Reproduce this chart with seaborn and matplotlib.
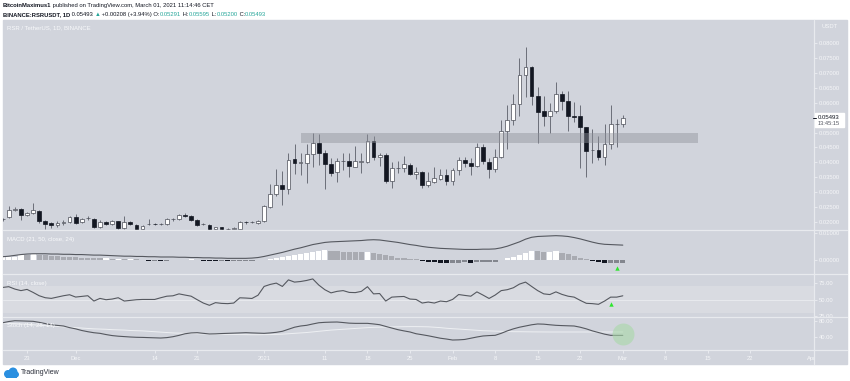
import pandas as pd
import seaborn as sns
import matplotlib.pyplot as plt
import matplotlib.dates as mdates
from matplotlib.patches import Rectangle, Circle
from matplotlib.lines import Line2D

sns.set_theme(style="dark")
plt.rcParams['font.family'] = ['Liberation Sans', 'DejaVu Sans']

# daily candles RSR/USDT, first candle 2020-11-19
start = '2020-11-19'
opens = [0.0208, 0.02147, 0.0241, 0.0242, 0.0221, 0.0228, 0.0237, 0.0201, 0.0195, 0.0188,
         0.0197, 0.0199, 0.0215, 0.0199, 0.0211, 0.0208, 0.0183, 0.0199, 0.0192, 0.0201,
         0.0179, 0.0199, 0.0188, 0.0175, 0.0192, 0.0193, 0.0192, 0.0192, 0.0208, 0.0208,
         0.0224, 0.0219, 0.0206, 0.0192, 0.0190, 0.0174, 0.0181, 0.0175, 0.0176, 0.0177,
         0.0199, 0.0198, 0.0195, 0.0201, 0.0250, 0.0293, 0.0324, 0.0309, 0.0411, 0.0399,
         0.0399, 0.0427, 0.0465, 0.0430, 0.0394, 0.0368, 0.0404, 0.0403, 0.0385, 0.0402,
         0.0401, 0.0472, 0.0418, 0.0424, 0.0338, 0.0381, 0.0381, 0.0391, 0.0359, 0.0368,
         0.0322, 0.0333, 0.0342, 0.0356, 0.0336, 0.0374, 0.0409, 0.0398, 0.0389, 0.0452,
         0.0400, 0.0378, 0.0418, 0.0504, 0.0541, 0.0597, 0.0692, 0.0720, 0.0624, 0.0572,
         0.0557, 0.0572, 0.0629, 0.0605, 0.0557, 0.0555, 0.0519, 0.0440, 0.0441, 0.0416,
         0.0460, 0.0528, 0.05291]
highs = [0.0212, 0.02527, 0.0250, 0.0246, 0.0233, 0.0264, 0.0240, 0.0206, 0.0199, 0.0204,
         0.0206, 0.0218, 0.0226, 0.0214, 0.0218, 0.0212, 0.0206, 0.0203, 0.0206, 0.0204,
         0.0219, 0.0203, 0.0192, 0.0188, 0.0208, 0.0197, 0.0196, 0.0211, 0.0214, 0.0227,
         0.0230, 0.0221, 0.0208, 0.0196, 0.0192, 0.0183, 0.0183, 0.0179, 0.0181, 0.0201,
         0.0204, 0.0203, 0.0206, 0.0256, 0.0327, 0.0376, 0.0369, 0.0430, 0.0461, 0.0430,
         0.0461, 0.0499, 0.0494, 0.0440, 0.0413, 0.0414, 0.0432, 0.0430, 0.0456, 0.0432,
         0.0494, 0.0488, 0.0430, 0.0430, 0.0401, 0.0403, 0.0420, 0.0398, 0.0383, 0.0372,
         0.0366, 0.0385, 0.0376, 0.0376, 0.0379, 0.0416, 0.0416, 0.0414, 0.0465, 0.0461,
         0.0413, 0.0443, 0.0541, 0.0592, 0.0631, 0.0752, 0.0787, 0.0725, 0.0653, 0.0622,
         0.0599, 0.0670, 0.0639, 0.0639, 0.0602, 0.0592, 0.0519, 0.0513, 0.0488, 0.0528,
         0.0592, 0.0545, 0.05595]
lows = [0.0204, 0.0212, 0.0236, 0.0206, 0.0218, 0.0226, 0.0196, 0.0175, 0.0178, 0.0182,
        0.0190, 0.0196, 0.0193, 0.0195, 0.0207, 0.0180, 0.0180, 0.0188, 0.0189, 0.0176,
        0.0176, 0.0189, 0.0174, 0.0173, 0.0189, 0.0189, 0.0190, 0.0190, 0.0204, 0.0205,
        0.0216, 0.0203, 0.0184, 0.0188, 0.0172, 0.0172, 0.0173, 0.0173, 0.0174, 0.0175,
        0.0193, 0.0194, 0.0192, 0.0199, 0.0246, 0.0287, 0.0255, 0.0293, 0.0362, 0.0357,
        0.0331, 0.0385, 0.0390, 0.0309, 0.0354, 0.0334, 0.0374, 0.0351, 0.0383, 0.0364,
        0.0396, 0.0409, 0.0387, 0.0329, 0.0312, 0.0364, 0.0368, 0.0357, 0.0342, 0.0312,
        0.0317, 0.0329, 0.0340, 0.0323, 0.0323, 0.0357, 0.0385, 0.0357, 0.0385, 0.0394,
        0.0346, 0.0368, 0.0413, 0.0444, 0.0525, 0.0555, 0.0620, 0.0592, 0.0465, 0.0521,
        0.0499, 0.0564, 0.0575, 0.0505, 0.0535, 0.0379, 0.0351, 0.0396, 0.0407, 0.0390,
        0.0446, 0.0450, 0.05200]
closes = [0.0210, 0.02392, 0.0242, 0.02235, 0.0230, 0.0239, 0.0201, 0.0192, 0.0188, 0.0197,
          0.0198, 0.0215, 0.0197, 0.0210, 0.0212, 0.0183, 0.0199, 0.0192, 0.0203, 0.0179,
          0.0199, 0.0192, 0.0177, 0.0186, 0.0193, 0.0192, 0.0193, 0.0208, 0.0209, 0.0223,
          0.0219, 0.0206, 0.0188, 0.0193, 0.0175, 0.0181, 0.0175, 0.0176, 0.0177, 0.0199,
          0.0198, 0.0199, 0.0203, 0.0253, 0.0293, 0.0324, 0.0309, 0.0409, 0.0398, 0.0400,
          0.0427, 0.0465, 0.0430, 0.0394, 0.0364, 0.0405, 0.0405, 0.0387, 0.0403, 0.0403,
          0.0472, 0.0416, 0.0423, 0.0336, 0.0380, 0.0382, 0.0393, 0.0360, 0.0368, 0.0323,
          0.0336, 0.0346, 0.0356, 0.0336, 0.0374, 0.0409, 0.0398, 0.0389, 0.0452, 0.0403,
          0.0378, 0.0418, 0.0504, 0.0541, 0.0597, 0.0692, 0.0722, 0.0622, 0.0570, 0.0556,
          0.0572, 0.0628, 0.0605, 0.0556, 0.0552, 0.0517, 0.0437, 0.0441, 0.0416, 0.0460,
          0.0528, 0.0529, 0.05493]

# indicators
macd_line = [0.0011, 0.0013, 0.0016, 0.0019, 0.0021, 0.0022, 0.0022, 0.0022, 0.0021, 0.0021,
             0.0020, 0.0020, 0.0019, 0.0019, 0.0018, 0.0017, 0.0017, 0.0016, 0.0015, 0.0014,
             0.0013, 0.0013, 0.0012, 0.0012, 0.0011, 0.0011, 0.0010, 0.0010, 0.0010, 0.0009,
             0.0009, 0.0008, 0.0008, 0.0007, 0.0007, 0.0006, 0.0006, 0.0005, 0.0005, 0.0005,
             0.0005, 0.0006, 0.0008, 0.0012, 0.0017, 0.0022, 0.0027, 0.0033, 0.0039, 0.0044,
             0.0050, 0.0056, 0.0060, 0.0064, 0.0066, 0.0067, 0.0068, 0.0069, 0.0070, 0.0071,
             0.0073, 0.0074, 0.0073, 0.0070, 0.0067, 0.0064, 0.0060, 0.0056, 0.0053, 0.0049,
             0.0046, 0.0044, 0.0042, 0.0041, 0.0040, 0.0039, 0.0038, 0.0038, 0.0038, 0.0039,
             0.0039, 0.0040, 0.0044, 0.0050, 0.0058, 0.0066, 0.0076, 0.0083, 0.0086, 0.0087,
             0.0088, 0.0089, 0.0088, 0.0086, 0.0082, 0.0077, 0.0071, 0.0065, 0.0060, 0.0057,
             0.0056, 0.0055, 0.0054]
macd_hist = [0.0010, 0.0010, 0.0011, 0.0017, 0.0016, 0.0020, 0.0017, 0.0016, 0.0013, 0.0012,
             0.0011, 0.0010, 0.0009, 0.0008, 0.0007, 0.0006, 0.0005, 0.0005, 0.0004, 0.0004,
             0.0003, 0.0003, 0.0002, -0.0002, -0.0003, -0.0003, -0.0004, -0.0003, -0.0002, -0.0001,
             -0.0001, 0.0001, -0.0002, -0.0003, -0.0004, -0.0005, -0.0005, -0.0006, -0.0006, -0.0005,
             -0.0004, -0.0003, -0.0002, -0.0001, 0.0003, 0.0006, 0.0009, 0.0013, 0.0016, 0.0020,
             0.0024, 0.0028, 0.0032, 0.0037, 0.0033, 0.0031, 0.0030, 0.0029, 0.0028, 0.0027,
             0.0029, 0.0025, 0.0022, 0.0018, 0.0012, 0.0008, 0.0006, 0.0004, 0.0002, -0.0004,
             -0.0008, -0.0010, -0.0013, -0.0014, -0.0013, -0.0011, -0.0010, -0.0011, -0.0009, -0.0008,
             -0.0008, -0.0007, -0.0002, 0.0005, 0.0010, 0.0017, 0.0026, 0.0032, 0.0031, 0.0030,
             0.0030, 0.0031, 0.0024, 0.0020, 0.0015, 0.0008, 0.0002, -0.0003, -0.0008, -0.0013,
             -0.0012, -0.0011, -0.0011]
rsi = [68.5, 69.6, 66.0, 63.7, 65.5, 61.0, 56.0, 53.0, 52.0, 54.0,
       56.0, 57.5, 54.0, 55.0, 56.0, 48.0, 52.0, 50.0, 51.0, 53.0,
       48.0, 49.0, 50.0, 50.4, 50.4, 50.4, 53.0, 55.3, 55.9, 58.8,
       57.0, 55.3, 50.0, 45.0, 41.6, 45.6, 44.5, 44.1, 45.0, 52.9,
       52.5, 51.9, 56.8, 70.0, 73.0, 75.0, 70.0, 79.9, 76.5, 77.4,
       79.0, 81.3, 72.0, 65.0, 60.3, 62.6, 63.7, 61.0, 60.7, 62.6,
       69.6, 58.8, 59.3, 48.0, 53.9, 54.5, 54.9, 51.0, 50.4, 45.0,
       46.5, 45.0, 48.0, 47.0, 50.4, 57.8, 56.5, 55.3, 61.8, 57.0,
       51.9, 57.0, 63.7, 65.1, 68.0, 73.5, 76.5, 70.0, 63.7, 58.8,
       57.8, 61.8, 58.0, 55.3, 53.9, 49.0, 44.6, 44.1, 43.1, 48.0,
       53.9, 53.9, 55.9]
stoch_k = [75.0, 78.0, 80.0, 79.5, 79.0, 78.5, 76.0, 73.0, 70.0, 68.5,
           67.0, 63.0, 60.0, 56.0, 53.0, 50.5, 49.0, 46.0, 43.5, 42.0,
           41.0, 40.0, 39.3, 39.0, 38.5, 38.0, 37.5, 38.5, 40.7, 44.0,
           48.0, 50.0, 50.6, 49.0, 47.5, 47.8, 48.5, 49.0, 49.5, 50.0,
           50.6, 50.0, 49.5, 49.0, 50.0, 51.5, 54.0, 59.0, 64.0, 67.0,
           68.7, 72.0, 75.0, 76.0, 76.5, 76.8, 75.5, 74.0, 73.5, 73.5,
           73.5, 72.0, 70.2, 66.0, 62.0, 58.0, 55.0, 52.3, 48.0, 45.6,
           43.0, 40.0, 37.0, 35.0, 32.6, 33.0, 34.0, 37.0, 40.0, 42.5,
           43.5, 44.1, 49.0, 55.0, 60.0, 64.0, 67.0, 70.0, 72.0, 71.5,
           70.0, 68.7, 68.0, 67.5, 67.0, 64.0, 60.0, 55.0, 51.0, 47.0,
           44.1, 44.0, 44.0]
stoch_d = [74.0, 73.5, 73.0, 72.0, 71.0, 70.0, 69.0, 68.0, 67.0, 66.0,
           65.0, 64.0, 63.0, 62.0, 61.0, 60.0, 59.5, 59.0, 58.0, 57.5,
           57.0, 56.0, 55.5, 55.0, 54.0, 53.0, 52.0, 51.0, 50.0, 49.5,
           49.0, 48.5, 48.0, 47.5, 47.4, 47.0, 46.8, 46.5, 46.2, 46.0,
           45.8, 45.6, 45.6, 45.8, 46.0, 46.5, 47.0, 48.0, 49.0, 50.0,
           51.0, 52.5, 54.0, 55.5, 57.0, 58.0, 59.0, 60.0, 61.0, 62.0,
           63.0, 63.8, 64.2, 64.5, 64.8, 65.0, 65.3, 65.5, 65.5, 65.3,
           65.0, 64.0, 63.0, 61.5, 60.4, 59.5, 58.5, 57.5, 56.5, 55.5,
           55.0, 54.5, 54.0, 53.5, 53.0, 53.0, 52.8, 52.6, 52.5, 52.4,
           52.3, 52.3, 52.3, 52.3, 52.3, 52.3, 52.3, 52.3, 52.3, 52.3,
           52.3, 52.3, 52.3]

# drawn support zone
zone_start, zone_end = '2021-01-07', '2021-03-13 10:00'
zone_low, zone_high = 0.0465, 0.0497

# signal markers
macd_signal = ('2021-02-28', -0.0032)
rsi_signal = ('2021-02-27', 44.0)
stoch_spot = ('2021-03-01', 46.6)

tick_dates = ['2020-11-23', '2020-12-01', '2020-12-14', '2020-12-21', '2021-01-01',
              '2021-01-11', '2021-01-18', '2021-01-25', '2021-02-01', '2021-02-08',
              '2021-02-15', '2021-02-22', '2021-03-01', '2021-03-08', '2021-03-15',
              '2021-03-22']
tick_labels = ['23', 'Dec', '14', '21', '2021', '11', '18', '25', 'Feb', '8', '15', '22',
               'Mar', '8', '15', '22']
price_ticks = [0.02, 0.025, 0.03, 0.035, 0.04, 0.045, 0.05, 0.055, 0.06, 0.065, 0.07, 0.075, 0.08]

df = pd.DataFrame({'date': pd.date_range(start, periods=len(closes), freq='D'),
                   'open': opens, 'high': highs, 'low': lows, 'close': closes,
                   'macd': macd_line, 'hist': macd_hist, 'rsi': rsi,
                   'k': stoch_k, 'd': stoch_d})

W, H = 850, 381
bg = '#d1d4dc'
light = '#f5f6f8'
dark = '#131722'
line_col = '#55585f'


def box(x0, y0, x1, y1):
    return [x0 / W, 1 - y1 / H, (x1 - x0) / W, (y1 - y0) / H]


fig = plt.figure(figsize=(8.5, 3.81), dpi=100, facecolor='white')
fig.patches.append(Rectangle((3 / W, 1 - 364 / H), 844 / W, 344 / H,
                             transform=fig.transFigure, color=bg, zorder=-1))

ax_main = fig.add_axes(box(3, 20, 814, 230))
ax_macd = fig.add_axes(box(3, 230, 814, 274), sharex=ax_main)
ax_rsi = fig.add_axes(box(3, 274, 814, 317), sharex=ax_main)
ax_sto = fig.add_axes(box(3, 317, 814, 350), sharex=ax_main)
axes = [ax_main, ax_macd, ax_rsi, ax_sto]

x0 = mdates.date2num(pd.Timestamp('2020-11-23')) - 3.95
xlim = (x0, x0 + 133.4)

for ax in axes:
    ax.set_facecolor(bg)
    for s in ax.spines.values():
        s.set_visible(False)
    ax.grid(False)
    ax.yaxis.tick_right()
    ax.tick_params(axis='y', direction='out', length=2, width=0.6, color='#eceef2',
                   labelcolor=light, labelsize=4.2, pad=1.5)
    ax.tick_params(axis='x', bottom=False, labelbottom=False)

# candles
up = df['close'] >= df['open']
ax_main.vlines(df['date'], df['low'], df['high'], color='#6b6e78', lw=0.7, zorder=2)
body = (df['close'] - df['open']).abs().clip(lower=0.00012)
ax_main.bar(df['date'], body, bottom=df[['open', 'close']].min(axis=1), width=0.62,
            color=['white' if u else dark for u in up],
            edgecolor=['#4a4d57' if u else dark for u in up], linewidth=0.5, zorder=3)
zs = mdates.date2num(pd.Timestamp(zone_start))
ze = mdates.date2num(pd.Timestamp(zone_end))
ax_main.add_patch(Rectangle((zs, zone_low), ze - zs, zone_high - zone_low,
                            facecolor='#8f929b', alpha=0.45, edgecolor='none', zorder=4))
ax_main.set_ylim(0.01721, 0.08784)
ax_main.set_yticks(price_ticks)
ax_main.set_yticklabels([f'{v:.5f}' for v in price_ticks])

# MACD
prev = df['hist'].shift(1).fillna(0)
hcols = []
for h, p in zip(df['hist'], prev):
    if h >= 0:
        hcols.append('white' if h >= p else '#a9abb2')
    else:
        hcols.append(dark if h < p else '#83868e')
ax_macd.bar(df['date'], df['hist'], width=0.85, color=hcols, linewidth=0, zorder=2)
sns.lineplot(data=df, x='date', y='macd', ax=ax_macd, color=line_col, linewidth=0.8, zorder=3)
ax_macd.scatter([pd.Timestamp(macd_signal[0])], [macd_signal[1]], marker='^', s=10,
                color='#2ee62e', linewidths=0, zorder=5)
ax_macd.set_ylim(-0.0053, 0.0110)
ax_macd.set_yticks([0.0, 0.01])
ax_macd.set_yticklabels(['0.00000', '0.01000'])

# RSI
ax_rsi.axhspan(30, 70, color='#d9dbe1', zorder=0, lw=0)
ax_rsi.axhline(50, color='#e7e9ed', lw=0.8, zorder=1)
sns.lineplot(data=df, x='date', y='rsi', ax=ax_rsi, color=line_col, linewidth=0.8, zorder=3)
ax_rsi.scatter([pd.Timestamp(rsi_signal[0])], [rsi_signal[1]], marker='^', s=10,
               color='#2ee62e', linewidths=0, zorder=5)
ax_rsi.set_ylim(24, 88.7)
ax_rsi.set_yticks([25, 50, 75])
ax_rsi.set_yticklabels(['25.00', '50.00', '75.00'])

# Stoch
sns.lineplot(data=df, x='date', y='d', ax=ax_sto, color='#eef0f3', linewidth=0.7, zorder=2)
sns.lineplot(data=df, x='date', y='k', ax=ax_sto, color=line_col, linewidth=0.8, zorder=3)
ax_sto.scatter([pd.Timestamp(stoch_spot[0])], [stoch_spot[1]], s=250, color='#a8d8a8',
               alpha=0.6, linewidths=0, zorder=4, clip_on=False)
ax_sto.set_ylim(8.1, 89.1)
ax_sto.set_yticks([40, 80])
ax_sto.set_yticklabels(['40.00', '80.00'])

for ax in axes:
    ax.set_xlabel('')
    ax.set_ylabel('')
ax_main.set_xlim(xlim)
ax_sto.set_xticks([mdates.date2num(pd.Timestamp(d)) for d in tick_dates])
ax_sto.set_xticklabels(tick_labels)
ax_sto.tick_params(axis='x', bottom=True, labelbottom=True, direction='out', length=2,
                   width=0.6, color='#eceef2', labelcolor=light, labelsize=4.2, pad=2.5)

# date strip for the clipped "Apr"
ax_strip = fig.add_axes(box(3, 350, 814, 364))
ax_strip.set_xlim(xlim)
ax_strip.set_ylim(0, 1)
ax_strip.axis('off')
ax_strip.text(mdates.date2num(pd.Timestamp('2021-04-01')), 0.42, 'Apr', ha='center',
              va='center', fontsize=4.2, color=light, clip_on=True)

# panel separators
for y in (230, 274, 317, 350):
    fig.add_artist(Line2D([3 / W, 847 / W], [1 - y / H] * 2, color='#e8eaee', lw=0.9, zorder=4))
fig.add_artist(Line2D([814 / W] * 2, [1 - 364 / H, 1 - 20 / H], color='#e8eaee', lw=0.9, zorder=4))

# panel titles
for y, s in [(28, 'RSR / TetherUS, 1D, BINANCE'), (240, 'MACD (21, 50, close, 24)'),
             (283, 'RSI (14, close)'), (325, 'Stoch (14, 28, 14)')]:
    fig.text(7 / W, 1 - y / H, s, fontsize=4.3, color='#f8f9fb', va='center', ha='left')

fig.text(822 / W, 1 - 27 / H, 'USDT', fontsize=4.2, color=light, va='center', ha='left')

# last price label
fig.patches.append(Rectangle((815 / W, 1 - 127 / H), 29 / W, 14 / H,
                             transform=fig.transFigure, color='white', zorder=5))
fig.add_artist(Line2D([813 / W, 816 / W], [1 - 117.6 / H] * 2, color=dark, lw=0.7, zorder=6))
fig.text(818 / W, 1 - 117.6 / H, '0.05493', fontsize=4.3, color=dark, va='center', ha='left', zorder=6)
fig.text(818 / W, 1 - 123.3 / H, '13:45:15', fontsize=4.1, color='#50535e', va='center', ha='left', zorder=6)

# header
renderer = fig.canvas.get_renderer()


def chain(x, y, parts, size):
    for s, color, weight in parts:
        t = fig.text(x / W, 1 - y / H, s, fontsize=size, color=color, fontweight=weight,
                     va='center', ha='left')
        x = t.get_window_extent(renderer).x1


teal = '#26a69a'
chain(3, 5.5, [('BitcoinMaximus1', dark, 'bold'),
               (' published on TradingView.com, March 01, 2021 11:14:46 CET', dark, 'normal')], 4.2)
chain(3, 14.3, [('BINANCE:RSRUSDT, 1D', dark, 'bold'), (' 0.05493 ', dark, 'normal'),
                ('\u25b2', teal, 'normal'), (' +0.00208 (+3.94%) O:', dark, 'normal'),
                ('0.05291', teal, 'normal'), (' H:', dark, 'normal'), ('0.05595', teal, 'normal'),
                (' L:', dark, 'normal'), ('0.05200', teal, 'normal'), (' C:', dark, 'normal'),
                ('0.05493', teal, 'normal')], 4.2)

# TradingView logo
ax_logo = fig.add_axes(box(3, 366, 19, 379))
ax_logo.set_xlim(0, 16)
ax_logo.set_ylim(0, 13)
ax_logo.set_aspect('equal')
ax_logo.axis('off')
for cx, cy, r in [(5, 5, 4), (10, 7, 4.5), (13, 4.5, 3)]:
    ax_logo.add_patch(Circle((cx, cy), r, color='#2a8fe0', lw=0))
ax_logo.add_patch(Rectangle((3, 1), 11, 4, color='#2a8fe0', lw=0))
fig.text(21 / W, 1 - 372.5 / H, 'TradingView', fontsize=5, color='#2b2f3a', va='center', ha='left')

fig.savefig('out.png', dpi=100, facecolor='white')
